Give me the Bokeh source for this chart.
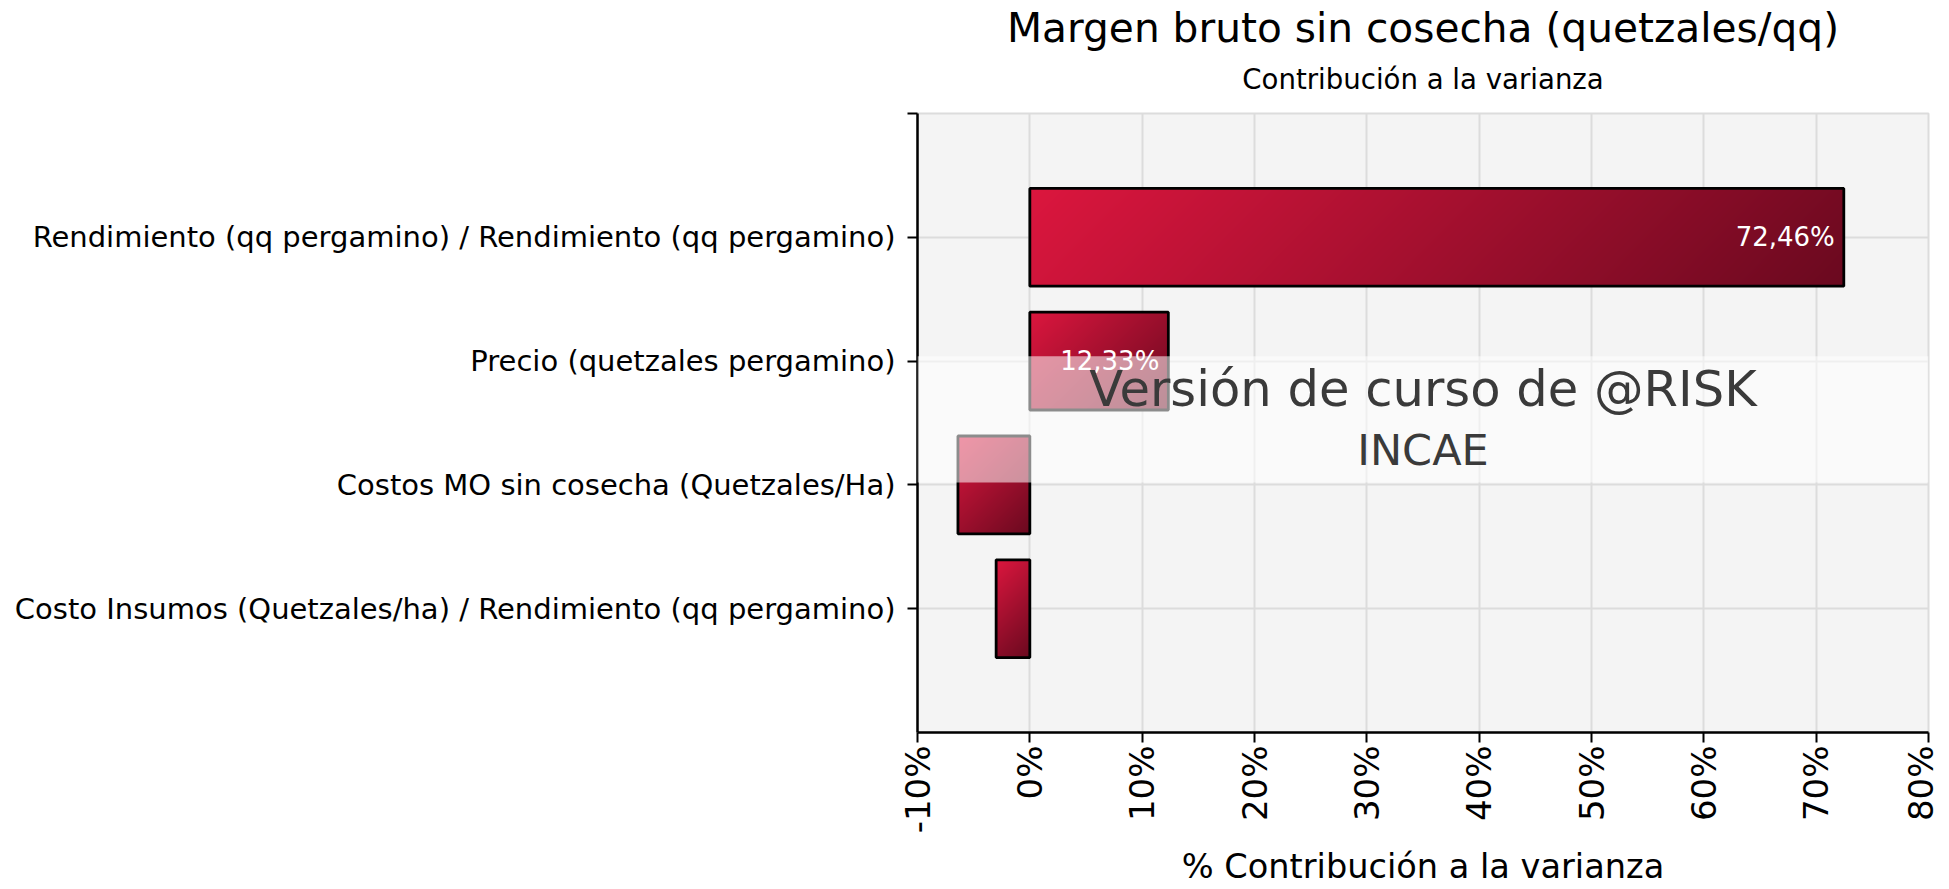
import math
import numpy as np
from bokeh.plotting import figure
from bokeh.models import Range1d, FixedTicker, BoxAnnotation, Label, Title
from bokeh.core.properties import value
from bokeh.embed import file_html
from bokeh.resources import INLINE

# ---------------- data ----------------
categories = [
    "Rendimiento (qq pergamino) / Rendimiento (qq pergamino)",
    "Precio (quetzales pergamino)",
    "Costos MO sin cosecha (Quetzales/Ha)",
    "Costo Insumos (Quetzales/ha) / Rendimiento (qq pergamino)",
]
contrib = [72.46, 12.33, -6.4, -3.0]
bar_labels = ["72,46%", "12,33%", "", ""]
x_ticks = [-10, 0, 10, 20, 30, 40, 50, 60, 70, 80]
x_tick_labels = ["-10%", "0%", "10%", "20%", "30%", "40%", "50%", "60%", "70%", "80%"]

title_text = "Margen bruto sin cosecha (quetzales/qq)"
subtitle_text = "Contribución a la varianza"
x_label = "% Contribución a la varianza"
watermark_1 = "Versión de curso de @RISK"
watermark_2 = "INCAE"

FONT = "DejaVu Sans"
n = len(categories)
y_pos = [n - i for i in range(n)]
bar_h = 0.79

W, H = 1940, 889
ML, MT = 917, 113
frame_w, frame_h = 1011, 620
MR = W - ML - frame_w
MB = H - MT - frame_h
x_lo, x_hi = -10, 80
y_lo, y_hi = 0, n + 1
px_x = frame_w / float(x_hi - x_lo)
px_y = frame_h / float(y_hi - y_lo)
x_mid = (x_lo + x_hi) / 2.0

p = figure(width=W, height=H, output_backend="svg", toolbar_location=None,
           x_range=Range1d(x_lo, x_hi), y_range=Range1d(y_lo, y_hi),
           min_border_left=ML, min_border_right=MR, min_border_top=MT,
           min_border_bottom=MB)
p.background_fill_color = "#f4f4f4"
p.border_fill_color = "white"
p.outline_line_color = "#dcdcdc"
p.outline_line_width = 2

# grid
p.xgrid.ticker = FixedTicker(ticks=x_ticks)
p.ygrid.ticker = FixedTicker(ticks=y_pos + [n + 1])
for g in (p.xgrid, p.ygrid):
    g.grid_line_color = "#dcdcdc"
    g.grid_line_width = 2

# x axis
xa = p.xaxis[0]
xa.ticker = FixedTicker(ticks=x_ticks)
xa.major_label_overrides = {t: l for t, l in zip(x_ticks, x_tick_labels)}
xa.major_label_orientation = math.pi / 2
xa.major_label_text_font = FONT
xa.major_label_text_font_size = "34px"
xa.major_label_text_color = "black"
xa.major_label_standoff = 3
xa.axis_label = x_label
xa.axis_label_text_font = FONT
xa.axis_label_text_font_size = "33.6px"
xa.axis_label_text_font_style = "normal"
xa.axis_label_text_color = "black"
xa.axis_label_standoff = 11
xa.axis_line_color = "black"
xa.axis_line_width = 2.5
xa.major_tick_line_color = "black"
xa.major_tick_line_width = 2
xa.major_tick_out = 10
xa.major_tick_in = 0
xa.minor_tick_line_color = None

# y axis
ya = p.yaxis[0]
ya.ticker = FixedTicker(ticks=y_pos + [n + 1])
overrides = {yy: c for yy, c in zip(y_pos, categories)}
overrides[n + 1] = ""
ya.major_label_overrides = overrides
ya.major_label_text_font = FONT
ya.major_label_text_font_size = "29px"
ya.major_label_text_color = "black"
ya.major_label_standoff = 12
ya.axis_line_color = "black"
ya.axis_line_width = 2.5
ya.major_tick_line_color = "black"
ya.major_tick_line_width = 2
ya.major_tick_out = 10
ya.major_tick_in = 0
ya.minor_tick_line_color = None

# gradient bars (diagonal gradient, top-left bright -> bottom-right dark)
c0 = np.array([220, 22, 62], dtype=float)
c1 = np.array([106, 9, 31], dtype=float)
lefts = [min(0.0, v) for v in contrib]
rights = [max(0.0, v) for v in contrib]
for yy, l, r in zip(y_pos, lefts, rights):
    w = r - l
    nx = max(2, int(round(w * px_x)))
    ny = max(2, int(round(bar_h * px_y)))
    ix = np.arange(nx)[None, :]
    iy_top = (ny - 1 - np.arange(ny))[:, None]
    t = (ix + iy_top) / float(nx + ny - 2)
    rgba = np.zeros((ny, nx, 4), dtype=np.uint8)
    for k in range(3):
        rgba[:, :, k] = np.round(c0[k] + (c1[k] - c0[k]) * t).astype(np.uint8)
    rgba[:, :, 3] = 255
    img = rgba.view(dtype=np.uint32).reshape((ny, nx))
    p.image_rgba(image=[img], x=l, y=yy - bar_h / 2, dw=w, dh=bar_h)

p.hbar(y=y_pos, left=lefts, right=rights, height=bar_h, fill_color=None,
       line_color="black", line_width=2.8)

lab_x = [v for v, s in zip(contrib, bar_labels) if s]
lab_y = [yy for yy, s in zip(y_pos, bar_labels) if s]
lab_t = [s for s in bar_labels if s]
p.text(x=lab_x, y=lab_y, text=lab_t, text_align="right", text_baseline="middle",
       x_offset=-9, text_color="white", text_font=value(FONT), text_font_size="26px")

# watermark band and text
p.add_layout(BoxAnnotation(bottom=2.02, top=3.04, fill_color="white", fill_alpha=0.55,
                           line_color=None))
p.add_layout(Label(x=x_mid, y=2.775, text=watermark_1, text_align="center",
                   text_baseline="alphabetic", text_font=FONT, text_font_size="49.6px",
                   text_color="#3a3a3a"))
p.add_layout(Label(x=x_mid, y=2.28, text=watermark_2, text_align="center",
                   text_baseline="alphabetic", text_font=FONT, text_font_size="43px",
                   text_color="#3a3a3a"))

# titles
p.add_layout(Title(text=subtitle_text, align="center", text_font=FONT,
                   text_font_size="27.6px", text_font_style="normal",
                   text_color="black", standoff=36), "above")
p.add_layout(Title(text=title_text, align="center", text_font=FONT,
                   text_font_size="40.7px", text_font_style="normal",
                   text_color="black", standoff=-18), "above")

open("out.html", "w").write(file_html(p, INLINE))
